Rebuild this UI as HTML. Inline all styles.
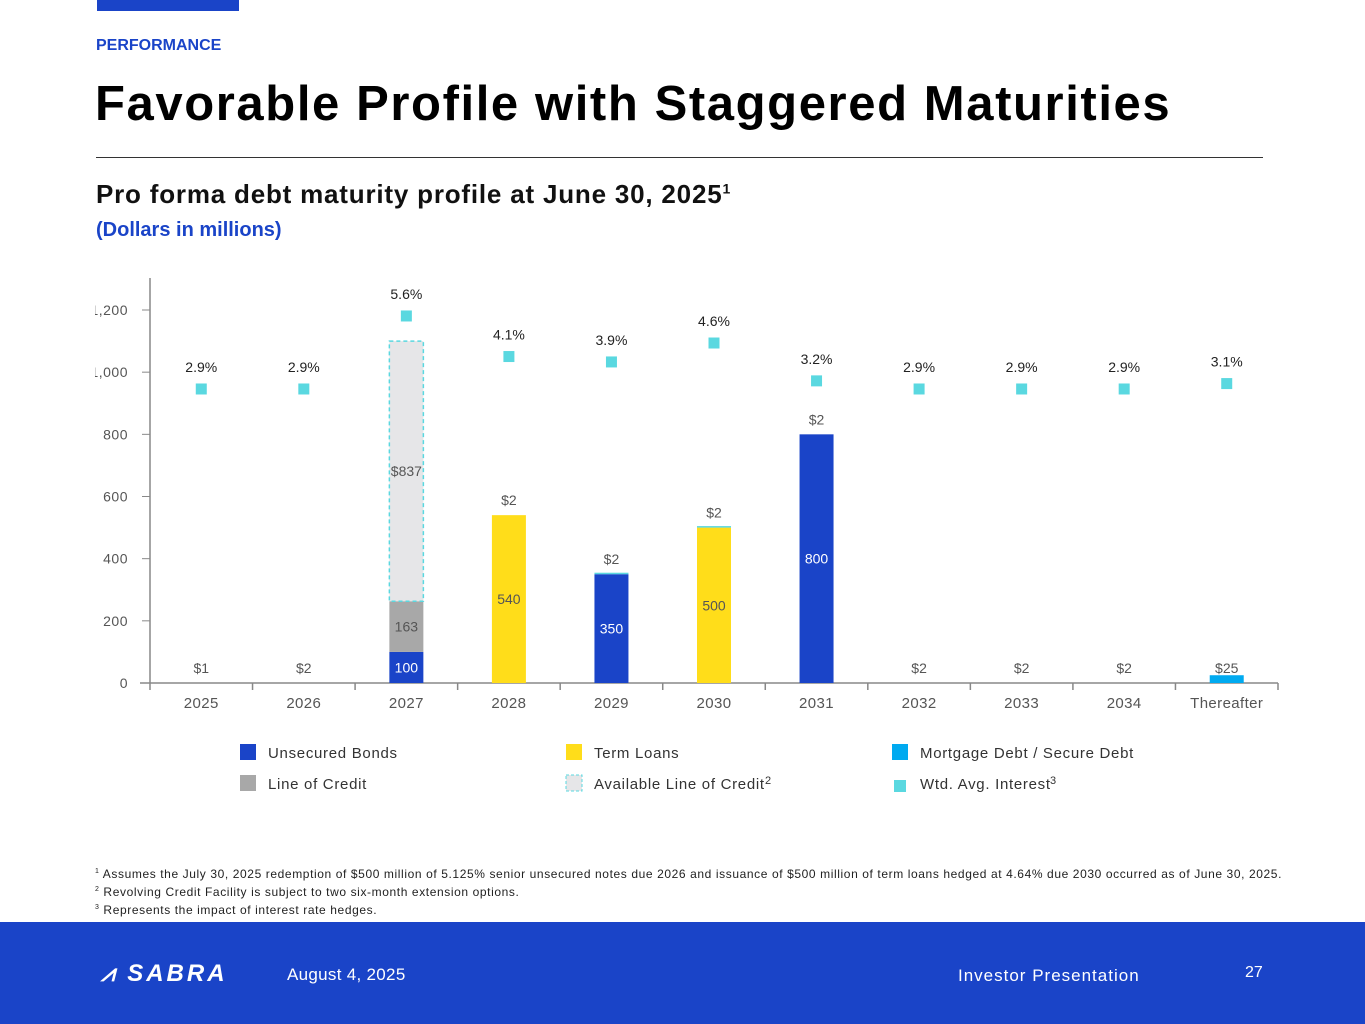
<!DOCTYPE html>
<html><head><meta charset="utf-8">
<style>
body{margin:0;width:1365px;height:1024px;position:relative;background:#fff;font-family:"Liberation Sans",sans-serif;overflow:hidden}
.abs{position:absolute}
</style></head><body>
<div class="abs" style="left:97px;top:0;width:142px;height:11px;background:#1a44c8"></div>
<div class="abs" style="left:96px;top:37px;font-size:16px;font-weight:bold;color:#1a44c8">PERFORMANCE</div>
<div class="abs" style="left:95px;top:76px;font-size:49px;font-weight:bold;color:#000;letter-spacing:1.6px">Favorable Profile with Staggered Maturities</div>
<div class="abs" style="left:96px;top:157px;width:1167px;height:1px;background:#333"></div>
<div class="abs" style="left:96px;top:179px;font-size:26px;font-weight:bold;color:#111;letter-spacing:0.8px">Pro forma debt maturity profile at June 30, 2025<sup style="font-size:14px">1</sup></div>
<div class="abs" style="left:96px;top:219px;font-size:20px;font-weight:bold;color:#1a44c8">(Dollars in millions)</div>

<svg class="abs" style="left:0;top:0" width="1365" height="920" id="chart" font-family="Liberation Sans, sans-serif"></svg>

<div class="abs" style="left:95px;top:864px;font-size:12px;color:#222;line-height:15px;letter-spacing:0.6px">
<div><sup style="font-size:7px">1</sup> Assumes the July 30, 2025 redemption of $500 million of 5.125% senior unsecured notes due 2026 and issuance of $500 million of term loans hedged at 4.64% due 2030 occurred as of June 30, 2025.</div>
<div><sup style="font-size:7px">2</sup> Revolving Credit Facility is subject to two six-month extension options.</div>
<div><sup style="font-size:7px">3</sup> Represents the impact of interest rate hedges.</div>
</div>

<div class="abs" style="left:0;top:922px;width:1365px;height:102px;background:#1a44c8">
 <div class="abs" style="left:101px;top:38px;color:#fff;font-size:24px;font-weight:bold;letter-spacing:3px;font-style:italic">⩘ SABRA</div>
 <div class="abs" style="left:287px;top:43px;color:#fff;font-size:17px;letter-spacing:0.3px">August 4, 2025</div>
 <div class="abs" style="left:958px;top:44px;color:#fff;font-size:17px;letter-spacing:1px">Investor Presentation</div>
 <div class="abs" style="left:1245px;top:42px;color:#fff;font-size:16px">27</div>
</div>

<script>
const categories=["2025","2026","2027","2028","2029","2030","2031","2032","2033","2034","Thereafter"];
const unsecured=[0,0,100,0,350,0,800,0,0,0,0];
const lineOfCredit=[0,0,163,0,0,0,0,0,0,0,0];
const availableLOC=[0,0,837,0,0,0,0,0,0,0,0];
const termLoans=[0,0,0,540,0,500,0,0,0,0,0];
const mortgage=[1,2,0,2,2,2,2,2,2,2,25];
const mortgageLabels=["$1","$2","","$2","$2","$2","$2","$2","$2","$2","$25"];
const interest=[2.9,2.9,5.6,4.1,3.9,4.6,3.2,2.9,2.9,2.9,3.1];
const yTicks=[0,200,400,600,800,1000,1200];

const svg=document.getElementById('chart');
const NS="http://www.w3.org/2000/svg";
const X0=150,X1=1278,Y0=683,PX=(683-310)/1200,BW=34;
const step=(X1-X0)/categories.length;
const xc=i=>X0+step*(i+0.5);
const y=v=>Y0-v*PX;
const yR=r=>467.4-27.04*r;
function mk(tag,attrs,name,text){const e=document.createElementNS(NS,tag);for(const k in attrs)e.setAttribute(k,attrs[k]);


if(text!==undefined)e.textContent=text;svg.appendChild(e);return e;}

mk('line',{x1:X0,y1:278,x2:X0,y2:Y0,stroke:'#888','stroke-width':1.5},'y-axis');
mk('line',{x1:X0-10,y1:Y0,x2:X1,y2:Y0,stroke:'#888','stroke-width':1.5},'x-axis');
yTicks.forEach(t=>{
 mk('line',{x1:X0-8,y1:y(t),x2:X0,y2:y(t),stroke:'#888'},'y-tick');
 mk('text',{x:128,y:y(t)+5,'text-anchor':'end','font-size':14,fill:'#555','letter-spacing':0.5},'y-tick-label',t.toLocaleString('en-US'));
});
mk('rect',{x:0,y:290,width:95,height:100,fill:'#fff'},'axis-clip-mask');
for(let i=0;i<=categories.length;i++) mk('line',{x1:X0+step*i,y1:Y0,x2:X0+step*i,y2:Y0+7,stroke:'#888','stroke-width':1.5},'x-tick');
categories.forEach((c,i)=>{
 mk('text',{x:xc(i),y:708,'text-anchor':'middle','font-size':15,fill:'#555','letter-spacing':0.4},'x-tick-label',c);
 let base=0;const x=xc(i)-BW/2;
 const seg=(val,fill,name,lblFill,lbl,extra)=>{
  const a={x,y:y(base+val),width:BW,height:val*PX,fill};Object.assign(a,extra||{});
  mk('rect',a,name+'-'+c);
  mk('text',{x:xc(i),y:y(base+val/2)+5,'text-anchor':'middle','font-size':14,fill:lblFill},'value-'+name,lbl);
  base+=val;};
 if(unsecured[i])seg(unsecured[i],'#1a44c8','bar-unsecured','#fff',unsecured[i]);
 if(lineOfCredit[i])seg(lineOfCredit[i],'#a8a8a8','bar-line-of-credit','#555',lineOfCredit[i]);
 if(availableLOC[i])seg(availableLOC[i],'#e6e6e8','bar-available-loc','#555','$'+availableLOC[i],{stroke:'#5ad8e0','stroke-width':1.5,'stroke-dasharray':'4,3'});
 if(termLoans[i])seg(termLoans[i],'#ffdd1a','bar-term-loans','#555',termLoans[i]);
 if(mortgage[i]){
  if(mortgage[i]>=5||unsecured[i]===350||termLoans[i]===500){const h=Math.max(mortgage[i]*PX,1.5);
   mk('rect',{x,y:y(base)-h,width:BW,height:h,fill:mortgage[i]>=5?'#00aaf0':'#5ad8e0'},'bar-mortgage-'+c);}
  const ly=base>0?y(base)-10:673;
  if(mortgageLabels[i])mk('text',{x:xc(i),y:ly,'text-anchor':'middle','font-size':14,fill:'#555'},'value-mortgage',mortgageLabels[i]);}
 mk('rect',{x:xc(i)-5.5,y:yR(interest[i])-5.5,width:11,height:11,fill:'#5ad8e0'},'interest-marker-'+c);
 mk('text',{x:xc(i),y:yR(interest[i])-17,'text-anchor':'middle','font-size':14,fill:'#222'},'interest-label',interest[i].toFixed(1)+'%');
});
const legend=[["#1a44c8","Unsecured Bonds",240,752,0],["#ffdd1a","Term Loans",566,752,0],["#00aaf0","Mortgage Debt / Secure Debt",892,752,0],
["#a8a8a8","Line of Credit",240,783,0],["#e6e6e8","Available Line of Credit",566,783,1],["#5ad8e0","Wtd. Avg. Interest",892,783,2]];
legend.forEach(l=>{
 const s=l[4]===2?12:16;
 mk('rect',{x:l[2]+(16-s)/2,y:l[3]-8+(16-s)/2+(l[4]===2?3:0),width:s,height:s,fill:l[0],stroke:l[4]===1?'#5ad8e0':'none','stroke-dasharray':'3,2'},'legend-swatch');
 mk('text',{x:l[2]+28,y:l[3]+6,'font-size':15,fill:'#333','letter-spacing':0.7},'legend-entry',l[1]);
});
mk('text',{x:765,y:784,'font-size':11,fill:'#333'},'legend-footnote-2','2');
mk('text',{x:1050,y:784,'font-size':11,fill:'#333'},'legend-footnote-3','3');
</script>
</body></html>
